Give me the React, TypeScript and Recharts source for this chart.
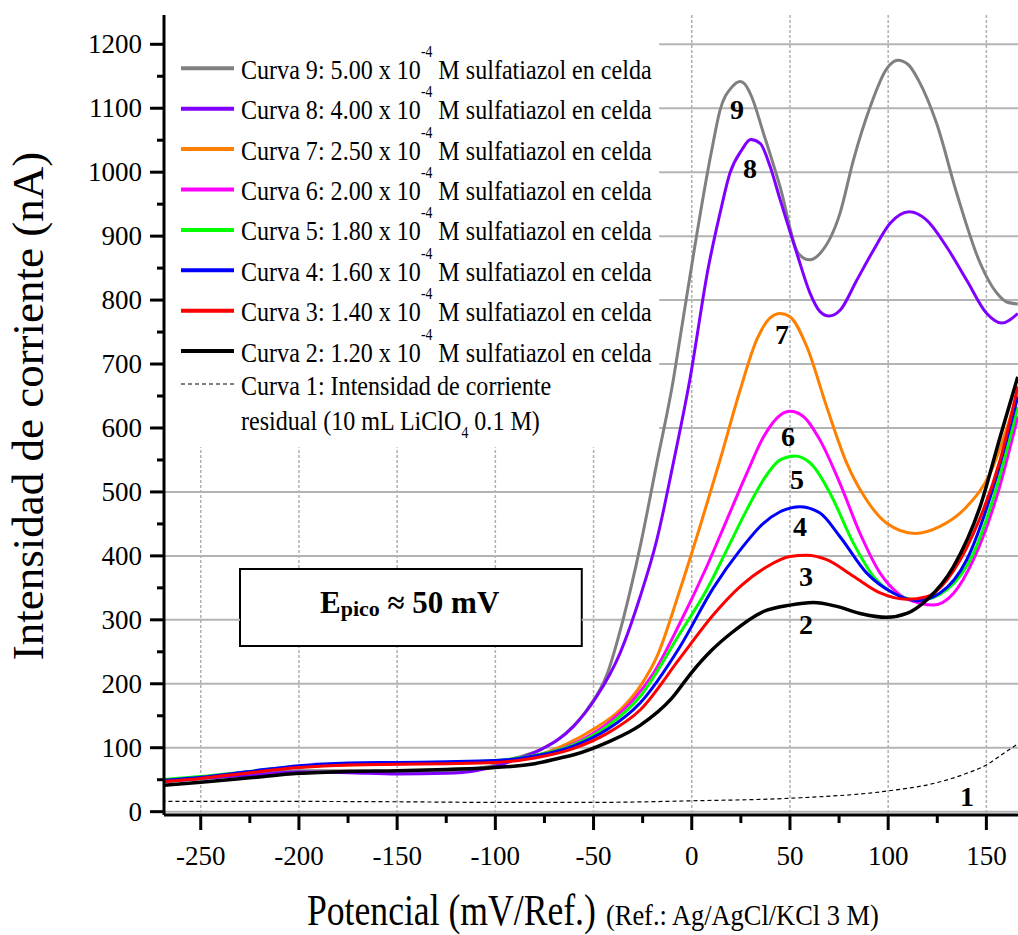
import React from 'react';
import { LineChart, Line, XAxis, YAxis, CartesianGrid, ReferenceArea, ReferenceLine } from 'recharts';

const FONT = "'Liberation Serif', 'Times New Roman', serif";

const X_DOMAIN: [number, number] = [-268.7, 166.1];
const Y_DOMAIN: [number, number] = [-5.2, 1245.8];
const X_MAJOR = [-250, -200, -150, -100, -50, 0, 50, 100, 150];
const X_MINOR = [-225, -175, -125, -75, -25, 25, 75, 125];
const Y_MAJOR = [0, 100, 200, 300, 400, 500, 600, 700, 800, 900, 1000, 1100, 1200];
const Y_MINOR = [50, 150, 250, 350, 450, 550, 650, 750, 850, 950, 1050, 1150];

// annotation boxes (data units)
const LEGEND_BOX = { x1: X_DOMAIN[0], x2: -16.6, y1: 570, y2: Y_DOMAIN[1] };
const EPICO_BOX = { x1: -230, x2: -56, y1: 259, y2: 379.5 };

// Curve 1: residual current
const potential1 = [-270, -200, -150, -100, -50, 0, 50, 100, 123, 140, 150, 158.7, 166];
const current1 = [16, 16, 15.5, 14.5, 14.5, 17, 21, 32.5, 44, 60, 73, 91, 106];

// Curve 2: 1.20e-4 M
const potential2 = [-270, -250, -225, -200, -175, -150, -125, -100, -80, -67, -60, -43.3, -26.3, -10, 0, 10, 20, 36.5, 50, 61.9, 73.8, 85.7, 99.3, 109.5, 119.6, 133.2, 146.8, 157, 166];
const current2 = [41, 46, 53, 60, 63, 64, 66, 69, 75, 84, 89, 108, 135, 178, 218, 252, 279, 313, 323, 327, 321, 310, 304, 310, 331, 383, 477, 586, 680];

// Curve 3: 1.40e-4 M
const potential3 = [-270, -250, -225, -200, -175, -150, -125, -100, -80, -60, -43.3, -26.3, -6, 11, 24.6, 38.2, 50, 58.6, 68.7, 82.3, 95.9, 109.5, 119.6, 129.8, 143.4, 157, 166];
const current3 = [47, 52, 61, 69, 73, 74, 75, 77, 84, 99, 122, 159, 240, 308, 352, 383, 399, 401, 394, 368, 342, 332, 336, 362, 435, 550, 665];

// Curve 4: 1.60e-4 M
const potential4 = [-270, -250, -225, -200, -175, -150, -125, -100, -80, -60, -43.3, -26.3, -6, 11, 24.6, 36.5, 45, 55.1, 65.3, 75.5, 89.1, 102.6, 114.6, 126.4, 140, 153.6, 166];
const current4 = [49, 54, 63, 72, 76, 77, 78, 80, 87, 103, 128, 170, 258, 350, 409, 451, 469, 477, 467, 430, 373, 342, 330, 342, 394, 508, 649];

// Curve 5: 1.80e-4 M
const potential5 = [-270, -250, -225, -200, -175, -150, -125, -100, -80, -60, -43.3, -26.3, -6, 7.6, 17.8, 28, 36.5, 45, 52.6, 61.9, 70.4, 82.3, 92.5, 102.6, 116.2, 129.8, 143.4, 155.3, 166];
const current5 = [50, 55, 63, 71, 75, 76, 77, 80, 88, 105, 133, 180, 279, 347, 409, 472, 519, 550, 556, 540, 498, 420, 368, 342, 331, 347, 404, 508, 633];

// Curve 6: 2.00e-4 M
const potential6 = [-270, -250, -225, -200, -175, -150, -125, -100, -80, -60.3, -43.3, -29.7, -19.6, -6, 7.6, 17.8, 28, 36.5, 45, 50, 56.8, 65.3, 75.5, 85.7, 95.9, 106, 116.2, 123, 133.2, 143.4, 155.3, 166];
const current6 = [48, 53, 62, 70, 74, 75, 76, 79, 87, 106, 137, 175, 216, 295, 383, 456, 529, 586, 620, 626, 618, 581, 513, 435, 373, 339, 326, 323, 341, 394, 493, 618];

// Curve 7: 2.50e-4 M
const potential7 = [-270, -250, -225, -200, -175, -150, -125, -100, -80, -63.6, -48.4, -36.5, -26.3, -17.8, -6, 4.2, 14.4, 24.6, 33.1, 39.9, 45, 50, 58.6, 68.7, 78.9, 89.1, 99.3, 113.7, 126.4, 140, 151.9, 166];
const current7 = [48, 53, 62, 70, 73, 75, 76, 79, 87, 106, 132, 159, 196, 242, 347, 446, 550, 659, 738, 772, 779, 774, 727, 633, 545, 487, 451, 435, 446, 477, 529, 655];

// Curve 8: 4.00e-4 M
const potential8 = [-270, -250, -225, -200, -175, -150, -125, -110, -100, -90, -77, -60.3, -48.4, -36.5, -26.3, -17.8, -9.4, -1, 8.5, 14.4, 19.5, 25.5, 30, 34.8, 39.9, 45, 53.5, 60.2, 65.3, 69.9, 75.5, 84, 92.5, 101, 110.8, 119.6, 129.8, 140, 150.2, 157.8, 166];
const current8 = [47, 52, 57, 62, 61, 59, 60, 64, 71, 81, 97, 133, 180, 248, 336, 425, 545, 675, 852, 936, 999, 1035, 1051, 1045, 1009, 957, 873, 811, 782, 775, 784, 831, 878, 920, 938, 925, 883, 831, 779, 764, 779];

// Curve 9: 5.00e-4 M
const potential9 = [-270, -250, -225, -200, -175, -150, -125, -110, -100, -94, -85, -77, -64, -53.5, -43, -35, -26.3, -17.8, -9.4, -6, 10.2, 14.4, 20.4, 24.6, 27, 30.5, 36.5, 45, 54.3, 59.9, 65.3, 75.5, 82.3, 90.8, 99.3, 104.9, 110.3, 115.4, 124.7, 134.9, 146.8, 155.3, 160.4, 166];
const current9 = [47, 52, 59, 64, 64, 62, 63, 67, 73, 80, 88, 97, 123, 159, 216, 300, 414, 545, 675, 740, 1035, 1097, 1133, 1142, 1138, 1118, 1061, 977, 873, 863, 873, 936, 1019, 1102, 1162, 1175, 1168, 1144, 1076, 967, 858, 811, 797, 794];

const toPoints = (xs: number[], ys: number[]) => xs.map((x, i) => ({ x, y: ys[i] }));

type Series = { id: string; name: string; conc: string; xs: number[]; ys: number[]; color: string; width: number; dash?: string };

const SERIES: Series[] = [
  { id: 'c1', name: 'Curva 1', conc: '', xs: potential1, ys: current1, color: '#000000', width: 1.2, dash: '4 3' },
  { id: 'c9', name: 'Curva 9', conc: '5.00', xs: potential9, ys: current9, color: '#808080', width: 3 },
  { id: 'c8', name: 'Curva 8', conc: '4.00', xs: potential8, ys: current8, color: '#8000FF', width: 3 },
  { id: 'c7', name: 'Curva 7', conc: '2.50', xs: potential7, ys: current7, color: '#FF8000', width: 3 },
  { id: 'c6', name: 'Curva 6', conc: '2.00', xs: potential6, ys: current6, color: '#FF00FF', width: 3 },
  { id: 'c5', name: 'Curva 5', conc: '1.80', xs: potential5, ys: current5, color: '#00FF00', width: 3 },
  { id: 'c4', name: 'Curva 4', conc: '1.60', xs: potential4, ys: current4, color: '#0000FF', width: 3 },
  { id: 'c3', name: 'Curva 3', conc: '1.40', xs: potential3, ys: current3, color: '#FF0000', width: 3 },
  { id: 'c2', name: 'Curva 2', conc: '1.20', xs: potential2, ys: current2, color: '#000000', width: 3.5 },
];

const LEGEND_ORDER = ['c9', 'c8', 'c7', 'c6', 'c5', 'c4', 'c3', 'c2'];

const CURVE_LABELS = [
  { t: '9', x: 737, y: 119 },
  { t: '8', x: 750, y: 178 },
  { t: '7', x: 782, y: 344 },
  { t: '6', x: 788, y: 446 },
  { t: '5', x: 797, y: 489 },
  { t: '4', x: 800, y: 536 },
  { t: '3', x: 806, y: 586 },
  { t: '2', x: 806, y: 634 },
  { t: '1', x: 967, y: 806 },
];

const X_TICKS = [...X_MAJOR, ...X_MINOR].sort((a, b) => a - b);
const Y_TICKS = [...Y_MAJOR, ...Y_MINOR].sort((a, b) => a - b);

// horizontal grid segments that skip the legend and the E_pico box
const H_SEGMENTS: { v: number; a: number; b: number }[] = [];
Y_MAJOR.forEach((v) => {
  if (v >= LEGEND_BOX.y1) {
    H_SEGMENTS.push({ v, a: LEGEND_BOX.x2, b: X_DOMAIN[1] });
  } else if (v >= EPICO_BOX.y1 && v <= EPICO_BOX.y2) {
    H_SEGMENTS.push({ v, a: X_DOMAIN[0], b: EPICO_BOX.x1 });
    H_SEGMENTS.push({ v, a: EPICO_BOX.x2, b: X_DOMAIN[1] });
  } else {
    H_SEGMENTS.push({ v, a: X_DOMAIN[0], b: X_DOMAIN[1] });
  }
});

const vGen = ({ offset }: any) =>
  X_MAJOR.map((v) => offset.left + ((v - X_DOMAIN[0]) / (X_DOMAIN[1] - X_DOMAIN[0])) * offset.width);

const vLine = (p: any) => (
  <line key={p.key} x1={p.x1} y1={p.y1} x2={p.x2} y2={p.y2} stroke="#b0b0b0" strokeWidth={1.5} strokeDasharray="3 2" fill="none" />
);

const XTick = (props: any) => {
  const { x, y, payload } = props;
  const major = X_MAJOR.includes(payload.value);
  return (
    <g>
      <line x1={x} y1={y} x2={x} y2={y + (major ? 15 : 8)} stroke="#000" strokeWidth={3} />
      {major && (
        <text x={x} y={y + 50} textAnchor="middle" fontFamily={FONT} fontSize={27} fill="#000">
          {payload.value}
        </text>
      )}
    </g>
  );
};

const YTick = (props: any) => {
  const { x, y, payload } = props;
  const major = Y_MAJOR.includes(payload.value);
  return (
    <g>
      <line x1={x} y1={y} x2={x - (major ? 14 : 7)} y2={y} stroke="#000" strokeWidth={3} />
      {major && (
        <text x={x - 22} y={y + 9} textAnchor="end" fontFamily={FONT} fontSize={27} fill="#000">
          {payload.value}
        </text>
      )}
    </g>
  );
};

export default function App() {
  const byId = (id: string) => SERIES.find((s) => s.id === id)!;
  return (
    <div style={{ position: 'absolute', left: 0, top: 0, width: 1018, height: 935, background: '#fff', overflow: 'hidden' }}>
      <LineChart width={1018} height={935} margin={{ top: 15, right: 0, bottom: 60, left: 0 }}>
        <CartesianGrid horizontal={false} vertical={vLine} verticalCoordinatesGenerator={vGen} />
        <ReferenceArea x1={LEGEND_BOX.x1} x2={LEGEND_BOX.x2} y1={LEGEND_BOX.y1} y2={LEGEND_BOX.y2} fill="#ffffff" fillOpacity={1} stroke="none" />
        <ReferenceArea x1={EPICO_BOX.x1} x2={EPICO_BOX.x2} y1={EPICO_BOX.y1} y2={EPICO_BOX.y2} fill="#ffffff" fillOpacity={1} stroke="#000" strokeWidth={2} />
        {H_SEGMENTS.map((s, i) => (
          <ReferenceLine
            key={`h${i}`}
            segment={[{ x: s.a, y: s.v }, { x: s.b, y: s.v }]}
            stroke="#b4b4b4"
            strokeWidth={2}
            ifOverflow="visible"
          />
        ))}
        {SERIES.map((s) => (
          <Line
            key={s.id}
            data={toPoints(s.xs, s.ys)}
            dataKey="y"
            type="monotone"
            stroke={s.color}
            strokeWidth={s.width}
            strokeDasharray={s.dash}
            dot={false}
            activeDot={false}
            isAnimationActive={false}
          />
        ))}
        <XAxis
          dataKey="x"
          type="number"
          domain={X_DOMAIN}
          allowDataOverflow
          ticks={X_TICKS}
          interval={0}
          tickSize={0}
          tickMargin={0}
          tickLine={false}
          tick={(p: any) => <XTick {...p} />}
          axisLine={{ stroke: '#000', strokeWidth: 3 }}
          height={60}
        />
        <XAxis
          xAxisId="top"
          orientation="top"
          type="number"
          domain={X_DOMAIN}
          allowDataOverflow
          height={0}
          tick={false}
          tickLine={false}
          axisLine={{ stroke: '#000', strokeWidth: 3 }}
        />
        <YAxis
          type="number"
          domain={Y_DOMAIN}
          allowDataOverflow
          ticks={Y_TICKS}
          interval={0}
          tickSize={0}
          tickMargin={0}
          tickLine={false}
          tick={(p: any) => <YTick {...p} />}
          axisLine={{ stroke: '#000', strokeWidth: 3 }}
          width={164}
        />
      </LineChart>
      <svg width={1018} height={935} style={{ position: 'absolute', left: 0, top: 0, pointerEvents: 'none' }} fontFamily={FONT}>
        {LEGEND_ORDER.map((id, i) => {
          const s = byId(id);
          const cy = 68.3 + 40.4 * i;
          return (
            <g key={id}>
              <line x1={181} x2={234} y1={cy} y2={cy} stroke={s.color} strokeWidth={4} />
              <g transform={`translate(241, ${cy + 10.5}) scale(0.86, 1)`}>
                <text x={0} y={0} fontSize={28} fill="#000">
                  {`${s.name}: ${s.conc} x 10`}
                  <tspan dy={-22} fontSize={16}>-4</tspan>
                  <tspan dy={22}> M sulfatiazol en celda</tspan>
                </text>
              </g>
            </g>
          );
        })}
        <line x1={181} x2={234} y1={384} y2={384} stroke="#000" strokeWidth={1.2} strokeDasharray="4 3" />
        <g transform="translate(241, 395) scale(0.86, 1)">
          <text x={0} y={0} fontSize={28} fill="#000">Curva 1: Intensidad de corriente</text>
        </g>
        <g transform="translate(241, 430) scale(0.86, 1)">
          <text x={0} y={0} fontSize={28} fill="#000">
            residual (10 mL LiClO
            <tspan dy={8} fontSize={16}>4</tspan>
            <tspan dy={-8}> 0.1 M)</tspan>
          </text>
        </g>
        <text x={320} y={613} fontSize={31} fontWeight="bold" fill="#000">
          E<tspan fontSize={22} dy={3}>pico</tspan>
          <tspan dy={-3}> ≈ 50 mV</tspan>
        </text>
        {CURVE_LABELS.map((l) => (
          <text key={l.t} x={l.x} y={l.y} textAnchor="middle" fontSize={28} fontWeight="bold" fill="#000">
            {l.t}
          </text>
        ))}
        <text transform="translate(43, 406) rotate(-90)" textAnchor="middle" fontSize={45} fill="#000">
          Intensidad de corriente (nA)
        </text>
        <g transform="translate(307, 925) scale(0.81, 1)">
          <text x={0} y={0} fontSize={44} fill="#000">Potencial (mV/Ref.)</text>
        </g>
        <g transform="translate(606, 925) scale(0.88, 1)">
          <text x={0} y={0} fontSize={30} fill="#000">(Ref.: Ag/AgCl/KCl 3 M)</text>
        </g>
      </svg>
    </div>
  );
}
